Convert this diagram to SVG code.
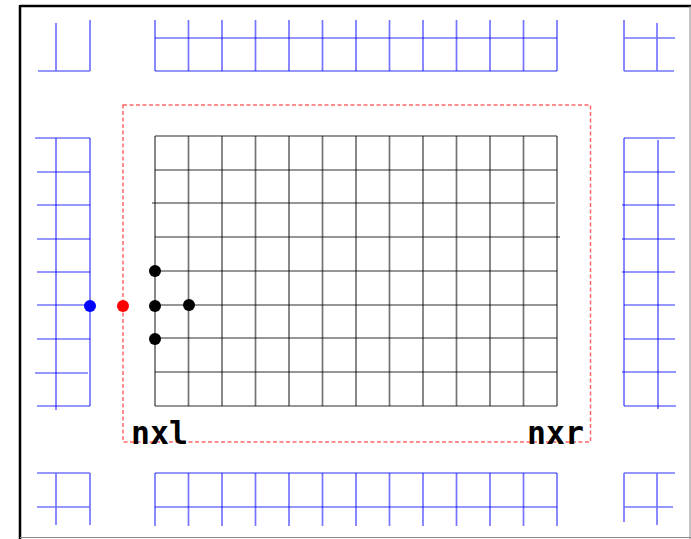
<svg xmlns="http://www.w3.org/2000/svg" width="691" height="539" viewBox="0 0 691 539">
<style>
.k{stroke:#000;stroke-opacity:0.55;stroke-width:1.7;fill:none}
.b{stroke:#0000ff;stroke-opacity:0.55;stroke-width:1.7;fill:none}
.r{stroke:#ff0000;stroke-opacity:0.6;stroke-width:1.5;fill:none;stroke-dasharray:4 2.5}
.t{font-family:"DejaVu Sans Mono","Liberation Mono",monospace;font-weight:bold;font-size:31.5px;fill:#000}
</style>
<rect width="691" height="539" fill="#fff"/>
<g id="frame">
<line x1="20" y1="6" x2="691" y2="6" stroke="#000" stroke-width="2.5"/>
<line x1="20" y1="5" x2="20" y2="539" stroke="#000" stroke-width="2.5"/>
<line x1="690" y1="6" x2="690" y2="539" stroke="#888" stroke-width="1"/>
<line x1="20" y1="537.5" x2="691" y2="537.5" stroke="#888" stroke-width="1"/>
</g>
<g id="main-grid" class="k">
<path d="M155,136V406M188.5,136V406M222,136V406M255.5,136V406M289,136V406M322.5,136V406M356,136V406M389.5,136V406M423,136V406M456.5,136V406M490,136V406M523.5,136V406M557,136V406"/>
<path d="M155,136H557M155,170H557M152,203H555M155,237H560M155,271H557M155,305H557M155,338H557M155,372H557M155,406H557"/>
</g>
<g id="top-strip" class="b">
<path d="M155,20V71M188.5,20V71M222,20V71M255.5,20V71M289,20V71M322.5,20V71M356,20V71M389.5,20V71M423,20V71M456.5,20V71M490,20V71M523.5,20V71M557,20V71"/>
<path d="M155,38H557M155,71H557"/>
</g>
<g id="bottom-strip" class="b">
<path d="M155,473V526M188.5,473V526M222,473V526M255.5,473V526M289,473V526M322.5,473V526M356,473V526M389.5,473V526M423,473V526M456.5,473V526M490,473V526M523.5,473V526M557,473V526"/>
<path d="M155,473H557M155,507H557"/>
</g>
<g id="left-strip" class="b">
<path d="M56,138V410M90,138V406"/>
<path d="M35,138H90M37,172H90M37,205H90M37,239H90M37,272H90M37,305H90M37,339H90M35,373H88M37,406H90"/>
</g>
<g id="right-strip" class="b">
<path d="M624,138V406M658,140V409"/>
<path d="M624,138H675M624,172H675M622,205H675M622,239H675M622,272H675M624,305H675M624,339H675M622,372H676M624,406H676"/>
</g>
<g id="corner-tl" class="b">
<path d="M56,23V71M90,20V71M38,71H90"/>
</g>
<g id="corner-tr" class="b">
<path d="M624,20V71M657,23V71M624,38H675M624,71H674"/>
</g>
<g id="corner-bl" class="b">
<path d="M56,473V525M90,473V525M37,473H90M37,507H90"/>
</g>
<g id="corner-br" class="b">
<path d="M624,473V522M657,473V525M624,473H675M624,507H673"/>
</g>
<g id="halo">
<rect class="r" x="123" y="105" width="467.5" height="337"/>
</g>
<g id="points">
<circle cx="90" cy="306" r="6" fill="#0000ff"/>
<circle cx="123" cy="306" r="6" fill="#ff0000"/>
<circle cx="155" cy="271" r="6" fill="#000"/>
<circle cx="155" cy="306" r="6" fill="#000"/>
<circle cx="189" cy="305" r="6" fill="#000"/>
<circle cx="155" cy="339" r="6" fill="#000"/>
</g>
<g id="labels">
<text class="t" x="131" y="444">nxl</text>
<text class="t" x="527" y="444">nxr</text>
</g>
</svg>
